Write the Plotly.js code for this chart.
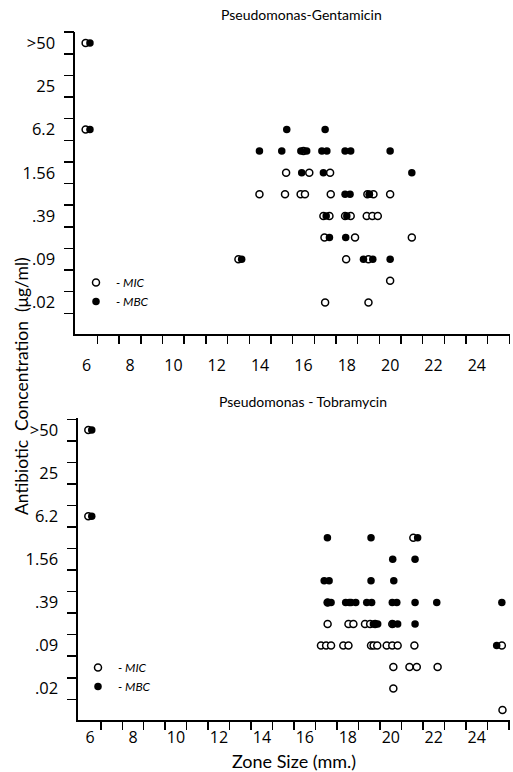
<!DOCTYPE html>
<html><head><meta charset="utf-8">
<script src="https://cdn.plot.ly/plotly-3.0.1.min.js"></script>
<style>html,body{margin:0;padding:0;background:#fff}</style>
</head><body><div id="chart" style="width:513px;height:772px"></div>
<script>
// concentration levels (µg/ml), bottom to top; unlabeled levels shown blank
const levels = ['.01', '.02', '.045', '.09', '.19', '.39', '.78', '1.56', '3.1', '6.2', '12.5', '25', '50', '>50'];
const unlabeledLevels = ['.01', '.045', '.19', '.78', '3.1', '12.5', '50'];
const zoneTicks = [6, 8, 10, 12, 14, 16, 18, 20, 22, 24];

// Pseudomonas - Gentamicin
const gentMicZone = [5.95, 5.95, 16.0, 15.2, 16.27, 17.23,
  13.97, 15.15, 15.87, 16.07, 17.26, 18.95, 19.23, 20.0,
  16.92, 17.2, 17.92, 18.18, 18.92, 19.18, 19.43,
  16.97, 18.38, 21.0, 13.0, 17.97, 19.0, 20.0, 17.0, 19.0];
const gentMicConc = ['>50', '6.2', '3.1', '1.56', '1.56', '1.56',
  '.78', '.78', '.78', '.78', '.78', '.78', '.78', '.78',
  '.39', '.39', '.39', '.39', '.39', '.39', '.39',
  '.19', '.19', '.19', '.09', '.09', '.09', '.045', '.02', '.02'];
const gentMbcZone = [6.15, 6.15, 15.23, 17.0,
  13.97, 15.0, 15.88, 16.15, 16.85, 17.08, 17.92, 18.18, 20.0,
  15.92, 16.92, 21.0, 17.92, 18.15, 19.04, 19.04,
  17.05, 18.0, 17.2, 17.95, 13.15, 18.77, 19.2, 20.0];
const gentMbcConc = ['>50', '6.2', '6.2', '6.2',
  '3.1', '3.1', '3.1', '3.1', '3.1', '3.1', '3.1', '3.1', '3.1',
  '1.56', '1.56', '1.56', '.78', '.78', '.78', '.78',
  '.39', '.39', '.19', '.19', '.09', '.09', '.09', '.09'];

// Pseudomonas - Tobramycin
const tobMicZone = [5.92, 5.92, 21.05, 17.06,
  17.06, 18.03, 18.26, 18.8, 19.04, 19.27, 20.07,
  16.75, 16.99, 17.22, 17.79, 18.03, 19.08, 19.2, 19.37, 19.81, 20.07, 20.32, 21.1, 25.17,
  20.12, 20.87, 21.21, 22.18, 20.12, 25.2];
const tobMicConc = ['>50', '6.2', '3.1', '.39',
  '.19', '.19', '.19', '.19', '.19', '.19', '.19',
  '.09', '.09', '.09', '.09', '.09', '.09', '.09', '.09', '.09', '.09', '.09', '.09', '.09',
  '.045', '.045', '.045', '.045', '.02', '.01'];
const tobMbcZone = [6.08, 6.08, 17.05, 19.08, 21.25, 20.09, 21.13,
  16.9, 17.13, 19.08, 20.14,
  17.06, 17.22, 17.9, 18.07, 18.15, 18.37, 18.88, 19.11, 20.07, 20.28, 21.13, 22.14, 25.17,
  19.19, 19.39, 20.1, 20.32, 21.13, 24.93];
const tobMbcConc = ['>50', '6.2', '3.1', '3.1', '3.1', '1.56', '1.56',
  '.78', '.78', '.78', '.78',
  '.39', '.39', '.39', '.39', '.39', '.39', '.39', '.39', '.39', '.39', '.39', '.39', '.39',
  '.19', '.19', '.19', '.19', '.19', '.09'];

// tick marks sit on the boundaries between concentration levels / zone sizes
const minorTicks = [];
for (let v = 6.5; v <= 25.5; v += 1) minorTicks.push(v);
const levelBoundaries = [];
for (let i = 0.5; i < levels.length; i += 1) levelBoundaries.push(i);
const alias = {};
unlabeledLevels.forEach(function (l) { alias[l] = ' '; });

const FONT = 'Lato, "Open Sans", sans-serif';
const TICKFONT = '"Open Sans", Lato, sans-serif';
const micMarker = {symbol: 'circle', size: 7, color: 'white', line: {color: 'black', width: 1.5}};
const mbcMarker = {symbol: 'circle', size: 7.5, color: 'black', line: {color: 'black', width: 0}};

const traces = [
  {x: gentMicZone, y: gentMicConc, type: 'scatter', mode: 'markers', name: '- <i>MIC</i>', marker: micMarker, xaxis: 'x', yaxis: 'y', legend: 'legend'},
  {x: gentMbcZone, y: gentMbcConc, type: 'scatter', mode: 'markers', name: '- <i>MBC</i>', marker: mbcMarker, xaxis: 'x', yaxis: 'y', legend: 'legend'},
  {x: tobMicZone, y: tobMicConc, type: 'scatter', mode: 'markers', name: '- <i>MIC</i>', marker: micMarker, xaxis: 'x2', yaxis: 'y2', legend: 'legend2'},
  {x: tobMbcZone, y: tobMbcConc, type: 'scatter', mode: 'markers', name: '- <i>MBC</i>', marker: mbcMarker, xaxis: 'x2', yaxis: 'y2', legend: 'legend2'},
  // empty traces that register the tick-mark axes
  {x: [], y: [], type: 'scatter', mode: 'markers', xaxis: 'x', yaxis: 'y3', showlegend: false, hoverinfo: 'skip'},
  {x: [], y: [], type: 'scatter', mode: 'markers', xaxis: 'x2', yaxis: 'y4', showlegend: false, hoverinfo: 'skip'}
];

function xAxis(domain, range, anchor, standoff) {
  return {domain: domain, range: range, anchor: anchor, showline: true, linecolor: 'black', linewidth: 1.6,
    showgrid: false, zeroline: false, tickmode: 'array', tickvals: zoneTicks, ticks: '',
    ticklabelstandoff: standoff, tickfont: {size: 16, family: TICKFONT},
    minor: {tickmode: 'array', tickvals: minorTicks, ticks: 'outside', ticklen: 8, tickwidth: 1.5, tickcolor: 'black', showgrid: false}};
}
function yAxis(domain, range, anchor) {
  return {domain: domain, range: range, anchor: anchor, type: 'category', categoryorder: 'array', categoryarray: levels,
    tickmode: 'linear', tick0: 0, dtick: 1, labelalias: alias, ticks: '', ticklabelstandoff: 15,
    showline: true, linecolor: 'black', linewidth: 1.6,
    showgrid: false, zeroline: false, tickfont: {size: 16.5, family: TICKFONT}};
}
function yTickAxis(over, range, anchor) {
  return {overlaying: over, anchor: anchor, side: 'left', range: range, type: 'linear',
    tickmode: 'array', tickvals: levelBoundaries, ticks: 'outside', ticklen: 10, tickwidth: 1.5, tickcolor: 'black',
    showticklabels: false, showline: false, showgrid: false, zeroline: false, fixedrange: true};
}

const H = 772, W = 513;
const r1 = [-0.46, 13.51], r2 = [-0.46, 13.56];
const layout = {
  width: W, height: H, margin: {l: 0, r: 0, t: 0, b: 0},
  paper_bgcolor: 'white', plot_bgcolor: 'white',
  font: {family: FONT, color: 'black', size: 15},
  xaxis: xAxis([75 / W, 510 / W], [5.46, 25.53], 'y', 16),
  yaxis: yAxis([1 - 334 / H, 1 - 32 / H], r1, 'x'),
  xaxis2: Object.assign(xAxis([78 / W, 510 / W], [5.44, 25.55], 'y2', 2),
    {title: {text: 'Zone Size (mm.)', font: {size: 18}, standoff: 12}}),
  yaxis2: yAxis([1 - 720 / H, 1 - 418 / H], r2, 'x2'),
  yaxis3: yTickAxis('y', r1, 'x'),
  yaxis4: yTickAxis('y2', r2, 'x2'),
  legend: {x: 76 / W, xanchor: 'left', y: 1 - 268 / H, yanchor: 'top', bgcolor: 'rgba(0,0,0,0)',
    font: {size: 12, style: 'italic'}, itemwidth: 30, tracegroupgap: 0},
  legend2: {x: 78 / W, xanchor: 'left', y: 1 - 653 / H, yanchor: 'top', bgcolor: 'rgba(0,0,0,0)',
    font: {size: 12, style: 'italic'}, itemwidth: 30, tracegroupgap: 0},
  annotations: [
    {text: 'Pseudomonas-Gentamicin', xref: 'paper', yref: 'paper', x: 301 / W, y: 1 - 15 / H,
      xanchor: 'center', yanchor: 'middle', showarrow: false, font: {size: 14}},
    {text: 'Pseudomonas - Tobramycin', xref: 'paper', yref: 'paper', x: 303 / W, y: 1 - 402 / H,
      xanchor: 'center', yanchor: 'middle', showarrow: false, font: {size: 14}},
    {text: 'Antibiotic\u00a0 Concentration\u00a0 (\u03bcg/ml)', xref: 'paper', yref: 'paper', x: 21 / W, y: 1 - 386 / H,
      xanchor: 'center', yanchor: 'middle', textangle: -90, showarrow: false, font: {size: 17.5}}
  ]
};

Plotly.newPlot('chart', traces, layout, {displayModeBar: false, staticPlot: true});
</script>
</body></html>
